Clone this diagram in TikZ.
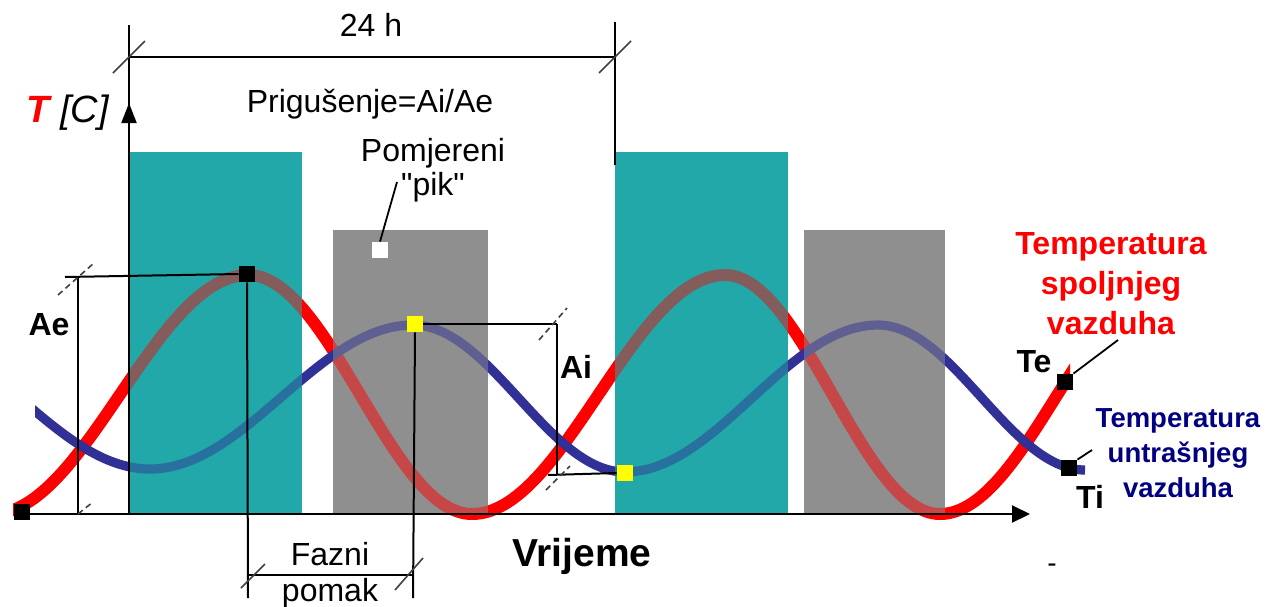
\documentclass[tikz,border=0pt]{standalone}
\usepackage{fontspec}
\setmainfont{Liberation Sans}
\newfontfamily\rawsans{Liberation Sans}[Ligatures=TeXOff]
\usetikzlibrary{arrows.meta,calc}
\definecolor{tealbox}{RGB}{34,168,168}
\definecolor{graybox}{RGB}{143,143,143}
\definecolor{curvered}{RGB}{255,0,0}
\definecolor{curveblue}{RGB}{48,48,150}
\definecolor{navytext}{RGB}{0,0,128}
\definecolor{pikyellow}{RGB}{255,255,0}
\newcommand\dimtick[3]{\draw[tickline] ($(#1)+(-#2,#3)$) -- ($(#1)+(#2,-#3)$);}
\begin{document}
\begin{tikzpicture}[x=0.5pt,y=-0.5pt,
  dimline/.style={black,line width=1pt},
  tickline/.style={black!75,line width=0.8pt},
  leader/.style={black,line width=0.9pt},
  redcurve/.style={curvered,line width=6pt},
  bluecurve/.style={curveblue,line width=4.6pt},
  sq/.style={rectangle,inner sep=0pt,minimum size=8pt},
  lbl/.style={inner sep=0pt,font=\fontsize{16}{17}\selectfont},
  boldlbl/.style={inner sep=0pt,font=\fontsize{16}{19}\selectfont\bfseries},
  tealrect/.style={fill=tealbox},
  grayrect/.style={fill=graybox}]
\useasboundingbox (0,0) rectangle (1268,606);
% day / night bands
\fill[tealrect] (129,152) rectangle (302,514);
\fill[grayrect] (333,230) rectangle (488,514);
\fill[tealrect] (615,152) rectangle (788,514);
\fill[grayrect] (804,230) rectangle (945,514);
% outside temperature
\begin{scope}
\clip (13,0) rectangle (1070,606);
\draw[redcurve] (-8,514) .. controls (85,514) and (155,275) .. (248,275)
  .. controls (329.4,275) and (390.6,514) .. (472,514)
  .. controls (563.9,514) and (633.1,275) .. (725,275)
  .. controls (803.1,275) and (861.9,514) .. (940,514)
  .. controls (1025.4,514) and (1089.6,275) .. (1175,275);
\end{scope}
% inside temperature
\begin{scope}
\clip (35,0) rectangle (1100,606);
\draw[bluecurve] (-113,325) .. controls (-17.4,325) and (54.4,469) .. (150,469)
  .. controls (245.6,469) and (317.4,325) .. (413,325)
  .. controls (490,325) and (548,472) .. (625,472)
  .. controls (716.9,472) and (786.1,325) .. (878,325)
  .. controls (953.2,325) and (1009.8,470) .. (1085,470);
\end{scope}
% translucent bands over the curves
\fill[tealrect,fill opacity=0.55] (129,152) rectangle (302,514);
\fill[grayrect,fill opacity=0.5] (333,230) rectangle (488,514);
\fill[tealrect,fill opacity=0.55] (615,152) rectangle (788,514);
\fill[grayrect,fill opacity=0.5] (804,230) rectangle (945,514);
% coordinates
\coordinate (xo) at (20,514);
\coordinate (xend) at (1030,514);
\coordinate (ytop) at (129,25);
\coordinate (ybot) at (129,514);
\coordinate (yarrbase) at (129,126);
\coordinate (yarrtip) at (129,103);
\coordinate (h24L) at (129,57);
\coordinate (h24R) at (615,57);
\coordinate (r24top) at (615,22);
\coordinate (r24bot) at (615,165);
\coordinate (aeTL) at (65,277);
\coordinate (aeT) at (78,277);
\coordinate (aeB) at (78,514);
\coordinate (aeTick) at (76,279);
\coordinate (aeBtickEnd) at (93,502);
\coordinate (aiT) at (557,324);
\coordinate (aiB) at (557,475);
\coordinate (aiBL) at (548,475);
\coordinate (aiTtick) at (553,324);
\coordinate (aiBtick) at (558,478);
\coordinate (fzL) at (248,598);
\coordinate (fzR) at (413,598);
\coordinate (fzHL) at (248,575);
\coordinate (fzHR) at (413,575);
\coordinate (fzLtick) at (253,576);
\coordinate (fzRtick) at (409,574);
\coordinate (pikend) at (397,182);
\coordinate (teend) at (1118,340);
\coordinate (tiend) at (1092,450);
% markers
\node[sq,fill=black] (redstart) at (22,512) {};
\node[sq,fill=black] (redmax) at (247,274) {};
\node[sq,fill=pikyellow] (yelmax) at (415,324) {};
\node[sq,fill=pikyellow] (yelmin) at (625,473) {};
\node[sq,fill=white] (pik) at (380,250) {};
\node[sq,fill=black] (tesq) at (1065,382) {};
\node[sq,fill=black] (tisq) at (1069,468) {};
% axes
\draw[dimline,-{Triangle[length=9pt,width=8.5pt]}] (xo) -- (xend);
\draw[dimline] (ybot) -- (ytop);
\draw[dimline,-{Triangle[length=10pt,width=7.5pt]}] (yarrbase) -- (yarrtip);
% 24 h dimension
\draw[dimline] (h24L) -- (h24R);
\draw[dimline] (r24top) -- (r24bot);
\dimtick{h24L}{16}{16}
\dimtick{h24R}{16}{16}
% Ae dimension
\draw[dimline] (aeTL) -- (redmax.west);
\draw[dimline] (aeT) -- (aeB);
\draw[tickline,densely dashed] ($(aeTick)+(-18,16)$) -- ($(aeTick)+(18,-16)$);
\draw[tickline,densely dashed] (aeB) -- (aeBtickEnd);
% Ai dimension
\draw[dimline] (yelmax.east) -- (aiT);
\draw[dimline] (aiBL) -- (yelmin.west);
\draw[dimline] (aiT) -- (aiB);
\draw[tickline,densely dashed] ($(aiTtick)+(-14,16)$) -- ($(aiTtick)+(14,-16)$);
\draw[tickline,densely dashed] ($(aiBtick)+(-12,12)$) -- ($(aiBtick)+(12,-12)$);
% phase shift dimension
\draw[dimline] (redmax.south) -- (fzL);
\draw[dimline] (yelmax.south) -- (fzR);
\draw[dimline] (fzHL) -- (fzHR);
\dimtick{fzLtick}{12}{12}
\dimtick{fzRtick}{14}{16}
% leaders
\draw[leader] (pik.north) -- (pikend);
\draw[leader] (tesq.north east) -- (teend);
\draw[leader] (tisq.north east) -- (tiend);
% texts
\node[anchor=base west,inner sep=0pt,font=\fontsize{19}{23}\selectfont\itshape] (tc) at (26,122) {\textcolor{curvered}{\bfseries T} [C]};
\node[lbl,anchor=base] (lab24) at (371,36) {24 h};
\node[lbl,anchor=base] (prig) at (370,112) {Prigušenje=Ai/Ae};
\node[lbl,anchor=north,align=center,font=\rawsans\fontsize{16}{17}\selectfont] (pomj) at (433,138) {Pomjereni\\"pik"};
\node[lbl,anchor=north,align=center,font=\fontsize{16}{18}\selectfont] (fazni) at (330,542) {Fazni\\pomak};
\node[boldlbl,anchor=base] (ae) at (49,335) {Ae};
\node[boldlbl,anchor=base] (ai) at (576,378) {Ai};
\node[boldlbl,anchor=base] (te) at (1034,372) {Te};
\node[boldlbl,anchor=base] (ti) at (1090,508) {Ti};
\node[anchor=base,inner sep=0pt,font=\fontsize{19.5}{23}\selectfont\bfseries] (vrij) at (582,566) {Vrijeme};
\node[anchor=north,align=center,inner sep=0pt,text=curvered,font=\fontsize{16}{20}\selectfont\bfseries] (extlbl) at (1111,232) {Temperatura\\spoljnjeg\\vazduha};
\node[anchor=north,align=center,inner sep=0pt,text=navytext,font=\fontsize{13.75}{17.5}\selectfont\bfseries] (intlbl) at (1178,408) {Temperatura\\untrašnjeg\\vazduha};
\node[anchor=base,inner sep=0pt,font=\fontsize{14}{16}\selectfont] (dash) at (1052,572) {-};
\end{tikzpicture}
\end{document}
